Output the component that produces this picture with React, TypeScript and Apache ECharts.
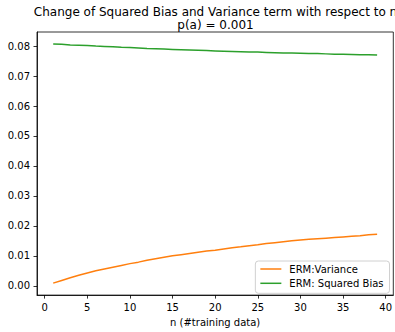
import React, { useEffect, useRef } from "react";
import * as echarts from "echarts";

const nValues: number[] = [
  1, 2, 3, 4, 5, 6, 7, 8, 9, 10, 11, 12, 13, 14, 15, 16, 17, 18, 19, 20,
  21, 22, 23, 24, 25, 26, 27, 28, 29, 30, 31, 32, 33, 34, 35, 36, 37, 38, 39,
];

const varianceValues: number[] = [
  0.0009, 0.0018, 0.0027, 0.0035, 0.0043, 0.005, 0.0056, 0.0062, 0.0068, 0.0074,
  0.0079, 0.0085, 0.009, 0.0095, 0.01, 0.0104, 0.0108, 0.0112, 0.0116, 0.0119,
  0.0123, 0.0127, 0.013, 0.0134, 0.0137, 0.0141, 0.0144, 0.0147, 0.015, 0.0153,
  0.0155, 0.0157, 0.0159, 0.0161, 0.0163, 0.0165, 0.0167, 0.017, 0.0172,
];

const biasValues: number[] = [
  0.0807, 0.0806, 0.0804, 0.0803, 0.0802, 0.08, 0.0799, 0.0798, 0.0796, 0.0795,
  0.0794, 0.0792, 0.0791, 0.079, 0.0789, 0.0788, 0.0787, 0.0786, 0.0785, 0.0784,
  0.0783, 0.0782, 0.0781, 0.078, 0.078, 0.0779, 0.0778, 0.0777, 0.0777, 0.0776,
  0.0775, 0.0775, 0.0774, 0.0773, 0.0773, 0.0772, 0.0771, 0.0771, 0.077,
];

const xTicks: number[] = [0, 5, 10, 15, 20, 25, 30, 35, 40];
const yTicks: number[] = [0, 0.01, 0.02, 0.03, 0.04, 0.05, 0.06, 0.07, 0.08];

const titleLine1 = "Change of Squared Bias and Variance term with respect to n";
const titleLine2 = "p(a) = 0.001";
const xAxisName = "n (#training data)";
const seriesNames = ["ERM:Variance", "ERM: Squared Bias"];

const FONT = "DejaVu Sans";

export default function App() {
  const ref = useRef<HTMLDivElement>(null);

  useEffect(() => {
    document.body.style.margin = "0";
    if (!ref.current) return;
    const chart = echarts.init(ref.current, null, { renderer: "svg" });
    const axisLine = { show: true, onZero: false, lineStyle: { color: "#000", width: 0.8 } };
    const axisTick = { show: true, inside: false, length: 3.5, lineStyle: { color: "#000", width: 0.8 } };
    chart.setOption({
      animation: false,
      grid: {
        left: 37,
        right: 1,
        top: 32,
        bottom: 32.5,
        show: true,
        borderColor: "#000",
        borderWidth: 0.8,
        backgroundColor: "transparent",
      },
      graphic: [
        {
          type: "text",
          x: 215.5,
          y: 12,
          style: {
            text: titleLine1,
            textAlign: "center",
            textVerticalAlign: "middle",
            font: `12px '${FONT}'`,
            fill: "#000",
          },
        },
        {
          type: "text",
          x: 215.5,
          y: 25,
          style: {
            text: titleLine2,
            textAlign: "center",
            textVerticalAlign: "middle",
            font: `12px '${FONT}'`,
            fill: "#000",
          },
        },
      ],
      legend: {
        orient: "vertical",
        right: 5.5,
        top: 261,
        padding: [2, 6, 4, 5],
        itemGap: 2.3,
        itemWidth: 21,
        itemHeight: 1.5,
        icon: "rect",
        borderColor: "#d0d0d0",
        borderWidth: 1,
        borderRadius: 3,
        backgroundColor: "rgba(255,255,255,0.8)",
        textStyle: {
          fontFamily: FONT,
          fontSize: 10,
          color: "#000",
          lineHeight: 12,
          padding: [0, 0, 0, 3],
        },
        data: seriesNames,
      },
      xAxis: {
        type: "value",
        min: -0.9,
        max: 40.9,
        axisLine,
        axisTick: { ...axisTick, customValues: xTicks },
        axisLabel: {
          customValues: xTicks,
          margin: 7,
          fontFamily: FONT,
          fontSize: 10,
          color: "#000",
        },
        splitLine: { show: false },
        name: xAxisName,
        nameLocation: "middle",
        nameGap: 18,
        nameTextStyle: { fontFamily: FONT, fontSize: 10, color: "#000" },
      },
      yAxis: {
        type: "value",
        min: -0.0031,
        max: 0.0847,
        axisLine,
        axisTick: { ...axisTick, customValues: yTicks },
        axisLabel: {
          customValues: yTicks,
          margin: 7,
          fontFamily: FONT,
          fontSize: 10,
          color: "#000",
          formatter: (v: number) => v.toFixed(2),
        },
        splitLine: { show: false },
      },
      series: [
        {
          name: seriesNames[0],
          type: "line",
          data: nValues.map((n, i) => [n, varianceValues[i]]),
          showSymbol: false,
          symbol: "none",
          lineStyle: { color: "#ff7f0e", width: 1.5 },
          itemStyle: { color: "#ff7f0e" },
        },
        {
          name: seriesNames[1],
          type: "line",
          data: nValues.map((n, i) => [n, biasValues[i]]),
          showSymbol: false,
          symbol: "none",
          lineStyle: { color: "#2ca02c", width: 1.5 },
          itemStyle: { color: "#2ca02c" },
        },
      ],
    });
    return () => chart.dispose();
  }, []);

  return <div ref={ref} style={{ width: 395, height: 332 }} />;
}
